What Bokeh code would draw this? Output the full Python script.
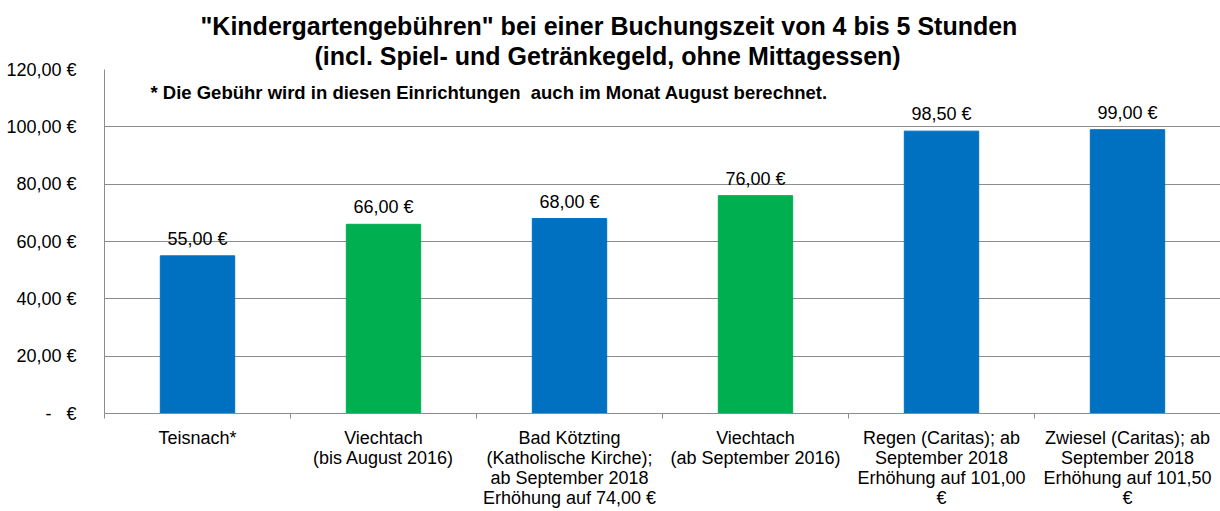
from bokeh.plotting import figure
from bokeh.models import Range1d, FixedTicker, ColumnDataSource, Label, Title
from bokeh.embed import file_html
from bokeh.resources import INLINE
from bokeh.core.properties import value

NB = "\u00a0"
categories = [
    "Teisnach*",
    "Viechtach\n(bis August 2016)",
    "Bad Kötzting\n(Katholische Kirche);\nab September 2018\nErhöhung auf 74,00 €",
    "Viechtach\n(ab September 2016)",
    "Regen (Caritas); ab\nSeptember 2018\nErhöhung auf 101,00\n€",
    "Zwiesel (Caritas); ab\nSeptember 2018\nErhöhung auf 101,50\n€",
]
fees = [55.00, 66.00, 68.00, 76.00, 98.50, 99.00]
colors = ["#0070C0", "#00B050", "#0070C0", "#00B050", "#0070C0", "#0070C0"]
y_ticks = [0, 20, 40, 60, 80, 100, 120]
y_tick_labels = ["-" + NB * 3 + "€", "20,00 €", "40,00 €", "60,00 €", "80,00 €", "100,00 €", "120,00 €"]
title_line1 = '"Kindergartengebühren" bei einer Buchungszeit von 4 bis 5 Stunden'
title_line2 = "(incl. Spiel- und Getränkegeld, ohne Mittagessen)"
note_text = "* Die Gebühr wird in diesen Einrichtungen" + NB + " auch im Monat August berechnet."

FONT = "Liberation Sans"
GRID = "#8C8C8C"

n = len(categories)
centers = [i + 0.5 for i in range(n)]
bounds = [float(i) for i in range(n + 1)]


def euro(v):
    return f"{v:.2f}".replace(".", ",") + " €"


source = ColumnDataSource(dict(
    x=centers, top=fees, color=colors, label=[euro(v) for v in fees]
))

p = figure(width=1220, height=511, output_backend="svg", toolbar_location=None,
           title=None,
           x_range=Range1d(0, n), y_range=Range1d(0, 120),
           min_border_left=104, min_border_right=0, min_border_top=69, min_border_bottom=98)

# two centred title lines (line 2 nearest to the plot)
for txt, off in [(title_line2, 210), (title_line1, 96)]:
    t = Title(text=txt, align="left", offset=off, text_font=FONT, text_font_size="25px",
              text_font_style="bold", text_color="#000000", standoff=0)
    p.add_layout(t, "above")

p.vbar(x="x", top="top", width=0.4, color="color", source=source)

p.text(x="x", y="top", text="label", source=source, text_align="center",
       text_baseline="alphabetic", y_offset=-17, text_font=value(FONT),
       text_font_size="18px", text_color="#000000")

note = Label(x=0.247, y=112, text=note_text, text_font=FONT, text_font_size="18.5px",
             text_font_style="bold", text_baseline="middle", text_color="#000000")
p.add_layout(note)

# axes
p.yaxis.ticker = FixedTicker(ticks=y_ticks)
p.yaxis.major_label_overrides = {t: l for t, l in zip(y_ticks, y_tick_labels)}
p.yaxis.major_tick_line_color = None
p.yaxis.minor_tick_line_color = None
p.yaxis.axis_line_color = GRID
p.yaxis.major_label_standoff = 22
p.yaxis.major_label_text_font = FONT
p.yaxis.major_label_text_font_size = "18px"
p.yaxis.major_label_text_color = "#000000"

p.xaxis.ticker = FixedTicker(ticks=centers, minor_ticks=bounds)
p.xaxis.major_label_overrides = {c: l for c, l in zip(centers, categories)}
p.xaxis.major_tick_line_color = None
p.xaxis.major_tick_out = 0
p.xaxis.major_tick_in = 0
p.xaxis.minor_tick_in = 0
p.xaxis.minor_tick_out = 5
p.xaxis.minor_tick_line_color = GRID
p.xaxis.axis_line_color = GRID
p.xaxis.major_label_standoff = 9
p.xaxis.major_label_text_font = FONT
p.xaxis.major_label_text_font_size = "18px"
p.xaxis.major_label_text_color = "#000000"
p.xaxis.major_label_text_line_height = 1.0

p.xgrid.grid_line_color = None
p.ygrid.grid_line_color = GRID
p.ygrid.grid_line_width = 1
p.outline_line_color = None

open("out.html", "w").write(file_html(p, INLINE))
